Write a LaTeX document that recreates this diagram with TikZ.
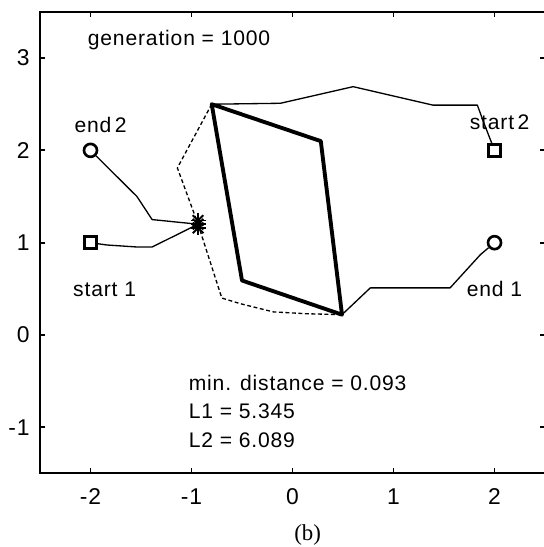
\documentclass[tikz,border=0pt]{standalone}
\usepackage{fontspec}
\setmainfont{Liberation Sans}[LetterSpace=4]
\newfontfamily\capfont{Liberation Serif}
\usetikzlibrary{calc}

\begin{document}
\begin{tikzpicture}[
  x=2.02cm, y=1.846cm,
  font=\fontsize{12}{14}\selectfont,
  axis/.style={line width=1.1pt},
  route/.style={line width=0.75pt, line join=round},
  guess/.style={route, dash pattern=on 2.2pt off 1.5pt},
  shared/.style={line width=2.2pt, line join=round},
  sqmark/.style={draw, line width=1.8pt, minimum size=0.23cm, inner sep=0pt},
  circmark/.style={draw, circle, line width=1.5pt, minimum size=0.26cm, inner sep=0pt},
  tick/.style={inner sep=0pt, font=\fontsize{13}{15}\selectfont},
  lbl/.style={inner sep=0pt}
]
\useasboundingbox (-2.896,-2.297) rectangle (2.480,3.629);
% axes box and ticks
\draw[axis] (-2.5,-1.5) rectangle (2.5,3.5);
\foreach \t [count=\i] in {-2,...,2} {
  \draw[axis] (\t,-1.5) -- ++(0,0.11cm);
  \draw[axis] (\t,3.5) -- ++(0,-0.11cm);
  \node[tick] (xt\i) at (\t,-1.755) {\t};
}
\foreach \t [count=\i] in {-1,...,3} {
  \draw[axis] (-2.5,\t) -- ++(0.11cm,0);
  \draw[axis] (2.5,\t) -- ++(-0.11cm,0);
  \node[tick, anchor=east] (yt\i) at (-2.6,\t) {\t};
}

% start and end points
\node[sqmark] (start1) at (-2,1) {};
\node[sqmark] (start2) at (2,2) {};
\node[circmark] (end1) at (2,1) {};
\node[circmark] (end2) at (-2,2) {};
\coordinate (meet) at (-0.935,1.2);
\coordinate (pa) at (-0.80,2.50);
\coordinate (pb) at (0.28,2.10);
\coordinate (pc) at (0.49,0.22);
\coordinate (pd) at (-0.50,0.59);

% robot 2
\draw[route] (start2) -- (1.89,2.31) -- (1.83,2.49) -- (1.39,2.49) -- (0.60,2.69) -- (-0.12,2.51) -- (pa);
\draw[guess] (pa) -- (-1.14,1.81) -- (meet);
\draw[route] (meet) -- (-1.39,1.25) -- (-1.54,1.50) -- (end2);
% robot 1
\draw[route] (start1) -- (-1.84,0.975) -- (-1.54,0.953) -- (-1.39,0.953) -- (meet);
\draw[guess] (meet) -- (-0.70,0.40) -- (-0.52,0.34) -- (-0.19,0.25) -- (0.14,0.23) -- (pc);
\draw[route] (pc) -- (0.77,0.51) -- (1.56,0.51) -- (1.86,0.87) -- (end1);
% shared loop
\draw[shared] (pa) -- (pb) -- (pc) -- (pd) -- cycle;

% collision marker
\foreach \dy in {0.04,0,-0.04}
  \foreach \a in {0,45,90,135}
    \draw[line width=1.1pt] ($(meet)+(0,\dy)+(\a:0.15cm)$) -- ($(meet)+(0,\dy)+(\a+180:0.15cm)$);

% labels
\node[lbl, anchor=west] (gen) at (-2.03,3.20) {generation = 1000};
\node[lbl] (lend2) at (-1.9,2.28) {end\,2};
\node[lbl] (lstart2) at (2.05,2.30) {start\,2};
\node[lbl] (lstart1) at (-1.86,0.49) {start 1};
\node[lbl] (lend1) at (2.0,0.50) {end 1};
\node[lbl, anchor=west] (dist) at (-1.03,-0.52) {min. distance = 0.093};
\node[lbl, anchor=west] (len1) at (-1.03,-0.83) {L1 = 5.345};
\node[lbl, anchor=west] (len2) at (-1.03,-1.14) {L2 = 6.089};
\node[lbl, font=\capfont\fontsize{13}{15}\selectfont] (cap) at (0.15,-2.17) {(b)};
\end{tikzpicture}
\end{document}
